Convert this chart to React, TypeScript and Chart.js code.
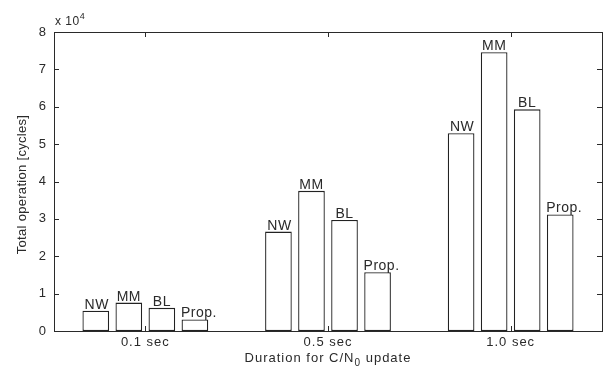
import React, { useEffect, useRef } from "react";
import { Chart, registerables } from "chart.js";

Chart.register(...registerables);

const categories = ["0.1 sec", "0.5 sec", "1.0 sec"];
const seriesNames = ["NW", "MM", "BL", "Prop."];
const nwValues = [5400, 26600, 52900];
const mmValues = [7600, 37500, 74600];
const blValues = [6200, 29700, 59300];
const propValues = [3100, 15700, 31200];
const yTickValues = [0, 10000, 20000, 30000, 40000, 50000, 60000, 70000, 80000];
const yTickLabels = ["0", "1", "2", "3", "4", "5", "6", "7", "8"];
const labelOffsets = [1, 0, 0, 4];

const FONT = "'Liberation Sans', Arial, Helvetica, sans-serif";
const TEXT = "#2a2a2a";
const LINE = "#2a2a2a";

const overlay = {
  id: "matlabOverlay",
  afterDraw(chart: any) {
    const ctx = chart.ctx as CanvasRenderingContext2D;
    const ca = chart.chartArea;
    const xs = chart.scales.x;
    const ys = chart.scales.y;
    ctx.save();
    ctx.strokeStyle = LINE;
    ctx.lineWidth = 1;
    // box
    ctx.strokeRect(Math.round(ca.left) + 0.5, Math.round(ca.top) + 0.5, Math.round(ca.right - ca.left), Math.round(ca.bottom - ca.top));
    // ticks
    ctx.beginPath();
    yTickValues.forEach((v) => {
      const py = Math.round(ys.getPixelForValue(v)) + 0.5;
      ctx.moveTo(ca.left, py);
      ctx.lineTo(ca.left + 5, py);
      ctx.moveTo(ca.right, py);
      ctx.lineTo(ca.right - 5, py);
    });
    categories.forEach((_, i) => {
      const px = Math.round(xs.getPixelForValue(i)) + 0.5;
      ctx.moveTo(px, ca.bottom);
      ctx.lineTo(px, ca.bottom - 5);
      ctx.moveTo(px, ca.top);
      ctx.lineTo(px, ca.top + 5);
    });
    ctx.stroke();

    ctx.fillStyle = TEXT;
    (ctx as any).letterSpacing = "1px";
    ctx.font = `13px ${FONT}`;
    // y tick labels
    ctx.textAlign = "right";
    ctx.textBaseline = "middle";
    yTickValues.forEach((v, i) => {
      ctx.fillText(yTickLabels[i], ca.left - 7, ys.getPixelForValue(v));
    });
    // x tick labels
    ctx.textAlign = "center";
    categories.forEach((c, i) => {
      ctx.fillText(c, xs.getPixelForValue(i), ca.bottom + 11);
    });

    // bar labels
    ctx.textBaseline = "alphabetic";
    ctx.font = `14px ${FONT}`;
    (ctx as any).letterSpacing = "0.5px";
    chart.data.datasets.forEach((ds: any, di: number) => {
      const meta = chart.getDatasetMeta(di);
      meta.data.forEach((bar: any) => {
        ctx.fillText(seriesNames[di], bar.x + labelOffsets[di], bar.y - 2);
      });
    });

    // x title with subscript
    (ctx as any).letterSpacing = "1px";
    const p1 = "Duration for C/N";
    const p2 = "0";
    const p3 = " update";
    ctx.textAlign = "left";
    ctx.font = `13px ${FONT}`;
    const w1 = ctx.measureText(p1).width;
    const w3 = ctx.measureText(p3).width;
    ctx.font = `10px ${FONT}`;
    const w2 = ctx.measureText(p2).width;
    const total = w1 + w2 + w3;
    const cx = (ca.left + ca.right) / 2;
    const base = 362;
    let sx = cx - total / 2;
    ctx.font = `13px ${FONT}`;
    ctx.fillText(p1, sx, base);
    sx += w1;
    ctx.font = `10px ${FONT}`;
    ctx.fillText(p2, sx, base + 4);
    sx += w2;
    ctx.font = `13px ${FONT}`;
    ctx.fillText(p3, sx, base);

    // y title
    ctx.save();
    (ctx as any).letterSpacing = "0.3px";
    ctx.translate(22, (ca.top + ca.bottom) / 2 + 3);
    ctx.rotate(-Math.PI / 2);
    ctx.textAlign = "center";
    ctx.textBaseline = "middle";
    ctx.font = `13px ${FONT}`;
    ctx.fillText("Total operation [cycles]", 0, 0);
    ctx.restore();

    // exponent
    (ctx as any).letterSpacing = "0.5px";
    ctx.textAlign = "left";
    ctx.textBaseline = "alphabetic";
    ctx.font = `12px ${FONT}`;
    const ex = "x 10";
    ctx.fillText(ex, ca.left + 1, 25);
    const ew = ctx.measureText(ex).width;
    ctx.font = `9px ${FONT}`;
    ctx.fillText("4", ca.left + 1 + ew, 19);
    ctx.restore();
  },
};

export default function App() {
  const ref = useRef<HTMLCanvasElement | null>(null);
  useEffect(() => {
    if (!ref.current) return;
    const mk = (data: number[]) => ({
      data,
      backgroundColor: "#ffffff",
      borderColor: "#222222",
      borderWidth: 1.3,
      borderSkipped: false as any,
      categoryPercentage: 0.7235,
      barPercentage: 0.807,
    });
    const chart = new Chart(ref.current, {
      type: "bar",
      data: {
        labels: categories,
        datasets: [mk(nwValues), mk(mmValues), mk(blValues), mk(propValues)].map((d, i) => ({ ...d, label: seriesNames[i] })),
      },
      options: {
        responsive: false,
        animation: false,
        events: [],
        layout: { padding: { left: 0, right: 12, top: 32, bottom: 0 } },
        plugins: { legend: { display: false }, tooltip: { enabled: false }, title: { display: false } },
        scales: {
          x: {
            type: "category",
            ticks: { display: false },
            grid: { display: false, drawTicks: false },
            border: { display: false },
            afterFit: (s: any) => { s.height = 38; },
          },
          y: {
            type: "linear",
            min: 0,
            max: 80000,
            ticks: { display: false, stepSize: 10000 },
            grid: { display: false, drawTicks: false },
            border: { display: false },
            afterFit: (s: any) => { s.width = 54; },
          },
        },
      },
      plugins: [overlay],
    });
    return () => chart.destroy();
  }, []);
  return (
    <div style={{ position: "fixed", left: 0, top: 0, width: 614, height: 369, background: "#fff" }}>
      <canvas ref={ref} width={614} height={369} style={{ display: "block" }} />
    </div>
  );
}
